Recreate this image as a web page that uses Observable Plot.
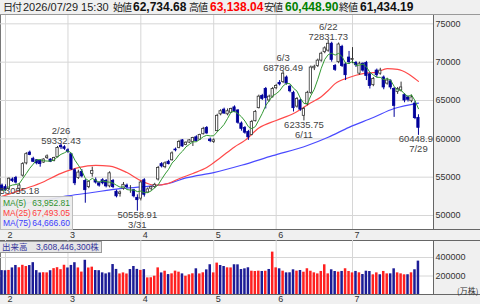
<!DOCTYPE html>
<html lang="ja"><head><meta charset="utf-8">
<script src="https://cdn.jsdelivr.net/npm/d3@7"></script>
<script src="https://cdn.jsdelivr.net/npm/@observablehq/plot@0.6"></script>
<style>
html,body{margin:0;padding:0;}
body{width:480px;height:304px;position:relative;overflow:hidden;background:#fff;font-family:"Liberation Sans","Noto Sans CJK JP",sans-serif;color:#222;}
.a{position:absolute;}
#hdr{left:0;top:0;width:480px;height:14px;background:#f0f0f0;border-bottom:1px solid #999;}
#hdr span{position:absolute;top:0;line-height:14px;white-space:nowrap;}
.k{font-size:10px;font-family:"Noto Sans CJK JP",sans-serif;letter-spacing:-1px;color:#222;}
.r{font-size:11px;color:#222;}
.n{font-size:12px;font-weight:bold;}
.bg{background:#f0f0f0;}
#legend{left:0;top:196px;width:71px;height:31px;background:rgba(236,236,236,0.93);border:1px solid #bdbdbd;font-size:8.5px;padding-top:1px;box-sizing:content-box;}
#legend div{display:flex;justify-content:space-between;height:10px;line-height:10px;padding:0 2px;}
#vlab{left:0;top:241px;height:10px;line-height:10px;padding:0 2px;background:#e6e6e6;border:1px solid #9a9a9a;border-left:none;font-size:8.5px;color:#33339a;white-space:nowrap;}
#unit{left:457px;top:285px;font-size:8px;color:#333;font-family:"Noto Sans CJK JP",sans-serif;}
</style></head><body>
<div id="hdr" class="a"></div>
<div class="a bg" style="left:433px;top:15px;width:46px;height:214px;border-left:1px solid #666;"></div>
<div class="a bg" style="left:0;top:229px;width:480px;height:10px;border-top:1px solid #666;border-bottom:1px solid #666;"></div>
<div class="a bg" style="left:433px;top:241px;width:46px;height:53px;border-left:1px solid #666;"></div>
<div class="a bg" style="left:0;top:294px;width:480px;height:10px;border-top:1px solid #666;"></div>
<div class="a" style="left:0;top:15px;width:1px;height:214px;background:#777;"></div>
<div class="a" style="left:0;top:241px;width:1px;height:53px;background:#777;"></div>
<div id="main" class="a" style="left:0;top:15px;"></div>
<div id="vol" class="a" style="left:0;top:240px;"></div>
<div id="legend" class="a"></div>
<div id="vlab" class="a"></div>
<div id="unit" class="a">(万株)</div>
<script>
// ---- data (index -1 = 1/30, 0 = 2/2 ... 119 = 7/29) ----
const startIdx = -1;
const opens = [53900,53700,53500,54700,54900,53500,55200,56800,58200,57400,
57200,57100,56900,57500,57300,57100,57600,59100,58900,58500,
58000,55900,54900,55700,54500,53700,55400,54600,54200,54600,
54500,53800,54500,53100,52800,53500,53900,53400,53300,52300,
52200,54600,53000,53500,53700,54700,56700,56300,57000,57200,
58600,58800,59800,59200,59500,59600,60200,59900,60600,61400,
59900,59600,61000,63200,63800,63200,63400,64100,63700,62000,
61400,60900,60500,62300,64000,65600,66500,65000,65500,66600,
67300,67400,68000,66800,66000,64200,65000,63000,64500,66000,
69200,69500,70200,71300,71500,72400,69500,70000,72000,69700,
70600,70300,69900,68500,69800,69900,68400,67000,68900,68500,
68000,67200,67500,66500,66100,66300,65700,65400,64900,64600,
62734.68];
const highs = [54100,54000,54900,54900,55100,54200,56900,58200,58400,57600,
57300,57300,57400,57900,57400,57600,59000,59332.43,59100,58700,
58100,56100,55900,56000,54700,54500,56300,54900,54400,54800,
54700,55700,54700,53300,53200,54300,54100,53900,53400,52700,
54500,54800,53600,53800,54200,56400,56900,57000,57200,58300,
58800,59800,59900,59600,59900,60200,60400,60600,61500,61600,
60100,60000,63200,63800,64000,63900,64000,64300,63800,62200,
61600,61100,62400,63700,65700,65800,66700,65700,66700,67100,
67600,68786.49,68200,67000,66200,65400,65200,64100,66200,69500,
69600,70400,71300,72000,72831.73,72600,69700,72500,72200,69900,
71400,71900,70100,70000,69900,70100,68600,68000,69100,69200,
68200,67900,67700,66700,66700,67400,65900,65600,65700,64900,
63138.04];
const lows = [53200,53150,53300,54300,54100,53055.18,55000,56600,57800,56900,
56600,56300,56800,57300,56900,57000,57500,58600,58500,58100,
55900,53900,54700,54900,51600,53500,55000,54100,53700,54000,
53600,53600,53500,52300,52400,53300,53500,52900,52300,50558.91,
51900,52400,52900,53200,53500,54500,56200,56100,56600,57100,
58300,58700,58900,59100,59400,59000,59600,59800,60500,60600,
59500,59400,60900,63000,63200,63000,63300,63400,61900,61000,
60600,59800,60400,62200,63900,65000,63900,64800,65300,66400,
66900,67200,67000,66000,63500,64000,63600,62335.75,64300,65800,
68900,69300,70000,71100,71300,70000,68800,69800,69300,67600,
69700,69800,69300,68300,68700,67600,66500,66800,68000,68300,
66400,67000,66400,62800,65800,66100,64700,64800,64700,62500,
60448.90];
const closes = [53300,53300,54800,54500,54300,53900,56700,58000,57900,57000,
56800,56700,57300,57700,57000,57500,58800,58900,58700,58300,
56000,54200,55600,55100,53300,54400,55800,54300,53900,54200,
53800,55500,53700,52500,53000,54000,53700,53400,52500,52000,
54300,52700,53400,53700,54000,56200,56400,56800,56700,58100,
58500,59600,59000,59500,59800,60100,59700,60500,61300,60700,
59700,59800,63000,63600,63300,63600,63900,63500,62100,61300,
60800,60200,62200,63500,65500,65200,65300,65500,66500,66900,
67100,68500,67200,66200,64000,65200,63800,63900,66000,69300,
69400,70200,71100,71800,72400,70300,69000,72300,69500,68300,
70000,70400,69600,69800,68900,68200,66900,67800,68300,68900,
66700,67600,66700,64300,66500,66700,65000,65100,65400,62700,
61434.19];
// volume in 万株
const volumes = [258400,256800,260100,287500,313900,289200,315600,302400,312800,344100,
258300,232700,235400,233900,257200,279600,289800,268500,316200,286700,
314300,343600,287100,242300,369800,286400,295700,258900,257400,234100,
222600,233800,323900,271200,222100,233400,221800,269700,302900,271600,
260400,268900,179600,181200,197800,287900,233200,251700,215400,223300,
252600,241400,222900,197300,212800,223900,277800,222400,234600,266300,
321800,233700,339400,313600,302700,288400,287300,321500,320700,269800,
277600,288900,251800,248700,252300,248900,251400,270600,458200,288100,
277900,252100,233900,234700,266900,252400,259300,241200,278400,251600,
234200,222700,249400,321300,223100,267200,248600,241800,249200,278300,
248800,233600,249500,234300,216200,252000,248400,212600,233800,213400,
249100,222800,223500,277700,234000,223200,212900,213700,234400,267400,
360844.63];
// u = red (up) volume bar, d = blue (down)
const volDir = ("ddudduuudd"+"dduuduuuud"+"dduuduuddd"+"dddduuuddd"+"uduuuududu"+
  "uuduuuduud"+"duudduuddd"+"dduuududuu"+"duddduduuu"+"uuuuuddudu"+"uududdduud"+"uudduuudud"+"d").split("");

const ma25Idx = [-1,4,10,16,21,26,30,35,39,43,47,50,54,58,62,66,69,73,78,83,88,91,93,95,99,103,107,110,113,116,119];
const ma25Val = [52500,53250,54200,55500,56250,56550,56450,55600,54550,53950,54200,54800,55480,56260,57560,58950,59800,61400,62400,63300,64700,65500,66300,67200,68000,68500,68700,69150,69050,68500,67493.05];
const ma75Idx = [-1,6,12,18,25,33,41,47,52,60,68,77,87,93,99,106,112,119];
const ma75Val = [51200,51600,52050,52550,53000,53500,53800,54170,54900,55600,56550,57800,59130,60200,61500,62780,63950,64666.60];
const ma5Last = 63952.81;

const monthIdx = [0,18,39,60,78,100];
const monthLabels = ["2","3","4","5","6","7"];
const priceTicks = [50000,55000,60000,65000,70000,75000];
const volTicks = [200000,400000];

// annotations ("" date = only the value is visible, the rest sits under the legend)
const annIdx = [4,16,38,80,86,93,119];
const annDates = ["","2/26","3/31","6/3","6/11","6/22","7/29"];
const annKind = ["low","high","low","high","low","high","low"];

const dateTime = "2026/07/29 15:30";
const hdrLabels = ["始値","高値","安値","終値"];
const hdrColors = ["#111","#ff0000","#008000","#111"];

const legendNames = ["MA(5)","MA(25)","MA(75)"];
const legendColors = ["#2f922f","#ff3c3c","#3c3cff"];

// ---- build ----
const fmt2 = d3.format(",.2f");
const last = closes.length - 1;
const days = closes.map((c,k)=>({i:k+startIdx, open:opens[k], high:highs[k], low:lows[k], close:c, vol:volumes[k], dir:volDir[k]}));
const ma25 = ma25Idx.map((i,k)=>({i, v:ma25Val[k]}));
const ma75 = ma75Idx.map((i,k)=>({i, v:ma75Val[k]}));
const monthMap = new Map(monthIdx.map((m,k)=>[m, monthLabels[k]]));

const yDom = [48174, 76086];
const plotH = 214;
const anns = annIdx.map((i,k)=>{
  const d = days[i - startIdx];
  const v = annKind[k]==="high" ? d.high : d.low;
  const py = (yDom[1]-v)/(yDom[1]-yDom[0])*plotH;
  const date = annDates[k];
  return {i, v, kind:annKind[k], solo: date==="", near: annKind[k]==="low" && date!=="" && py + 21 > plotH,
    text: date==="" ? v.toFixed(2) : (annKind[k]==="high" ? `${date}\n${v.toFixed(2)}` : `${v.toFixed(2)}\n${date}`)};
});

// header
const hdr = document.getElementById("hdr");
const hdrPieces = [
  ["日付","k",3,null],[dateTime,"r",23,null],
  [hdrLabels[0],"k",113,null],[fmt2(opens[last]),"n",133,hdrColors[0]],
  [hdrLabels[1],"k",189,null],[fmt2(highs[last]),"n",210,hdrColors[1]],
  [hdrLabels[2],"k",264,null],[fmt2(lows[last]),"n",285,hdrColors[2]],
  [hdrLabels[3],"k",339,null],[fmt2(closes[last]),"n",360,hdrColors[3]]
];
for (const [t,c,x,col] of hdrPieces) {
  const s = document.createElement("span");
  s.className = c; s.textContent = t; s.style.left = x+"px";
  if (col) s.style.color = col;
  hdr.appendChild(s);
}

// legend
const legVals = [ma5Last, ma25Val[ma25Val.length-1], ma75Val[ma75Val.length-1]];
const leg = document.getElementById("legend");
legendNames.forEach((n,k)=>{
  const row = document.createElement("div");
  row.style.color = legendColors[k];
  row.innerHTML = `<span>${n}</span><span>${fmt2(legVals[k])}</span>`;
  leg.appendChild(row);
});
document.getElementById("vlab").textContent = "出来高\u3000" + d3.format(",")(Math.round(volumes[last]*10000)) + "株";

const X = {domain:[-1.44, 123.34], label:null};
const font = "Liberation Sans, sans-serif";
const up = d => d.close >= d.open;
const annStyle = {text:"text", fontSize:9.5, fill:"#444", lineHeight:1.05, clip:true};

const main = Plot.plot({
  width:480, height:224, marginLeft:0, marginRight:47, marginTop:0, marginBottom:10,
  style:{background:"transparent", fontFamily:font},
  x:X, y:{domain:yDom, label:null}, color:{type:"identity"},
  marks:[
    Plot.ruleY(priceTicks, {stroke:"#d6d6d6"}),
    Plot.ruleX(monthIdx, {stroke:"#d6d6d6"}),
    Plot.line(ma75, {x:"i", y:"v", stroke:"#4a4aff", strokeWidth:1.2, curve:"monotone-x"}),
    Plot.line(ma25, {x:"i", y:"v", stroke:"#ff4a4a", strokeWidth:1.2, curve:"monotone-x"}),
    Plot.ruleX(days, {x:"i", y1:"low", y2:"high", stroke:d=>up(d)?"#333":"#00009a", strokeWidth:1}),
    Plot.rect(days, {x1:d=>d.i-0.33, x2:d=>d.i+0.33, y1:"open", y2:"close",
      fill:d=>up(d)?"#ffffff":"#00009a", stroke:d=>up(d)?"#333":"#00009a", strokeWidth:0.8}),
    Plot.lineY(days, Plot.windowY({k:5, anchor:"end"}, {x:"i", y:"close", stroke:"#339933", strokeWidth:1})),
    Plot.text(anns.filter(a=>a.kind==="high"), {x:"i", y:"v", lineAnchor:"bottom", ...annStyle}),
    Plot.text(anns.filter(a=>a.kind==="low" && !a.near && !a.solo), {x:"i", y:"v", lineAnchor:"top", ...annStyle}),
    Plot.text(anns.filter(a=>a.solo), {x:"i", y:"v", lineAnchor:"top", dy:-5, ...annStyle}),
    Plot.text(anns.filter(a=>a.near), {x:"i", frameAnchor:"bottom", lineAnchor:"bottom", dy:-2, ...annStyle}),
    Plot.axisY({ticks:priceTicks, anchor:"right", tickSize:0, tickPadding:2, tickFormat:d=>String(d), fontSize:9, fill:"#333"}),
    Plot.axisX({ticks:monthIdx, anchor:"bottom", tickSize:0, tickPadding:2, tickFormat:d=>monthMap.get(d), textAnchor:"start", dx:2, fontSize:9, fill:"#333"})
  ]
});
document.getElementById("main").appendChild(main);

const vol = Plot.plot({
  width:480, height:64, marginLeft:0, marginRight:47, marginTop:0, marginBottom:10,
  style:{background:"transparent", fontFamily:font},
  x:X, y:{domain:[0,583800], label:null}, color:{type:"identity"},
  marks:[
    Plot.ruleY(volTicks, {stroke:"#d6d6d6"}),
    Plot.ruleX(monthIdx, {stroke:"#d6d6d6"}),
    Plot.rect(days, {x1:d=>d.i-0.36, x2:d=>d.i+0.36, y1:0, y2:"vol", fill:d=>d.dir==="u"?"#ff2020":"#1c1c96"}),
    Plot.axisY({ticks:volTicks, anchor:"right", tickSize:0, tickPadding:2, tickFormat:d=>String(d), fontSize:9, fill:"#333"}),
    Plot.axisX({ticks:monthIdx, anchor:"bottom", tickSize:0, tickPadding:1, tickFormat:d=>monthMap.get(d), textAnchor:"start", dx:2, fontSize:9, fill:"#333"})
  ]
});
document.getElementById("vol").appendChild(vol);
</script>
</body></html>
